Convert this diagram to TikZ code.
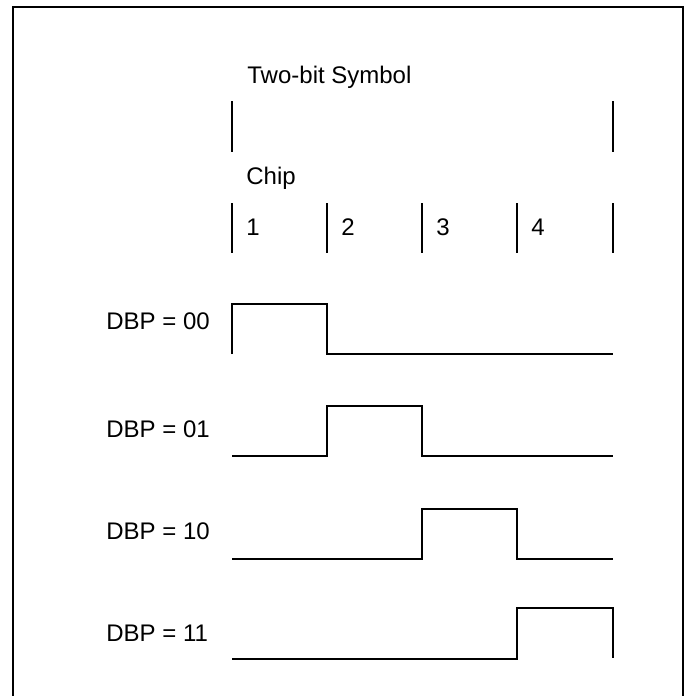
\documentclass[tikz,border=0pt]{standalone}
\usepackage{fontspec}
\setmainfont{Liberation Sans}
\begin{document}
\begin{tikzpicture}[x=0.5pt,y=-0.5pt,
  wave/.style={line width=1pt},
  tick/.style={line width=1pt},
  lbl/.style={anchor=base west, inner sep=0pt, font=\fontsize{12}{14}\selectfont}]
\useasboundingbox (0,0) rectangle (688,696);
\draw[line width=1pt] (13,696) -- (13,7) -- (683,7) -- (683,696);
% titles
\node[lbl] (sym) at (247,83) {Two-bit Symbol};
\node[lbl] (chip) at (246,184) {Chip};
% symbol ticks
\draw[tick] (232,101) -- (232,152);
\draw[tick] (613,101) -- (613,152);
% chip ticks
\foreach \x in {232,327,422,517,613} \draw[tick] (\x,203) -- (\x,253);
\node[lbl] (c1) at (246,235) {1};
\node[lbl] (c2) at (341,235) {2};
\node[lbl] (c3) at (436,235) {3};
\node[lbl] (c4) at (531,235) {4};
% labels
\node[lbl] (d00) at (106,329) {DBP = 00};
\node[lbl] (d01) at (106,437) {DBP = 01};
\node[lbl] (d10) at (106,539) {DBP = 10};
\node[lbl] (d11) at (106,641) {DBP = 11};
% waveforms
\draw[wave] (232,354) -- (232,304) -- (327,304) -- (327,354) -- (613,354);
\draw[wave] (232,456) -- (327,456) -- (327,406) -- (422,406) -- (422,456) -- (613,456);
\draw[wave] (232,559) -- (422,559) -- (422,509) -- (517,509) -- (517,559) -- (613,559);
\draw[wave] (232,659) -- (517,659) -- (517,608) -- (613,608) -- (613,658);
\end{tikzpicture}
\end{document}
